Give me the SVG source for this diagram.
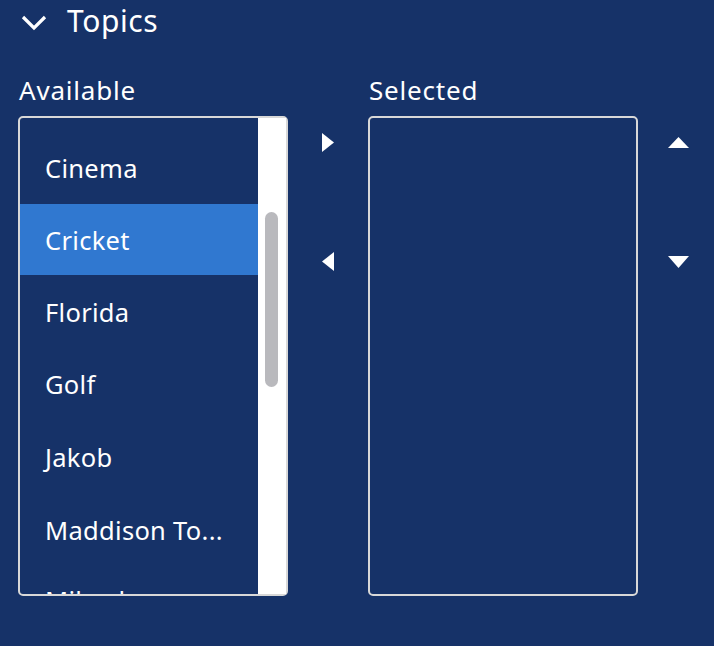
<svg xmlns="http://www.w3.org/2000/svg" width="714" height="646" viewBox="0 0 714 646">
<style>
text{font-family:"Noto Sans","Open Sans",sans-serif;fill:#fff}
.item{font-size:25.5px;letter-spacing:0.3px}
.lbl{font-size:26px;letter-spacing:0.8px}
.box{fill:#163268;stroke:#d8d8d8;stroke-width:2}
.tri{fill:#fff}
</style>
<defs><clipPath id="lc"><rect x="20" y="118" width="238" height="476"/></clipPath></defs>
<rect width="714" height="646" fill="#163268"/>
<g id="header">
<path d="M23 17 L34 28 L45 17" fill="none" stroke="#fff" stroke-width="3.2"/>
<text x="67" y="32" font-size="30" letter-spacing="0.6">Topics</text>
</g>
<g id="available">
<text class="lbl" x="19" y="100">Available</text>
<rect class="box" x="19" y="117" width="268" height="478" rx="4"/>
<rect x="258" y="118" width="28" height="476" fill="#fff"/>
<rect x="265" y="212" width="13" height="175" rx="6.5" fill="#b9b9bd"/>
<g clip-path="url(#lc)">
<rect x="20" y="204" width="238" height="71" fill="#3078d0"/>
<text class="item" x="45" y="178">Cinema</text>
<text class="item" x="45" y="250">Cricket</text>
<text class="item" x="45" y="322">Florida</text>
<text class="item" x="45" y="394">Golf</text>
<text class="item" x="45" y="467">Jakob</text>
<text class="item" x="45" y="540">Maddison To...</text>
<text class="item" x="45" y="610">Mikaela</text>
</g>
</g>
<g id="selected">
<text class="lbl" x="369" y="100">Selected</text>
<rect class="box" x="369" y="117" width="268" height="478" rx="4"/>
</g>
<g id="buttons">
<polygon class="tri" points="322,133 334,142.5 322,152"/>
<polygon class="tri" points="334,252 322,261.5 334,271"/>
<polygon class="tri" points="668,148 678.5,137 689,148"/>
<polygon class="tri" points="668,256 678.5,268 689,256"/>
</g>
</svg>
